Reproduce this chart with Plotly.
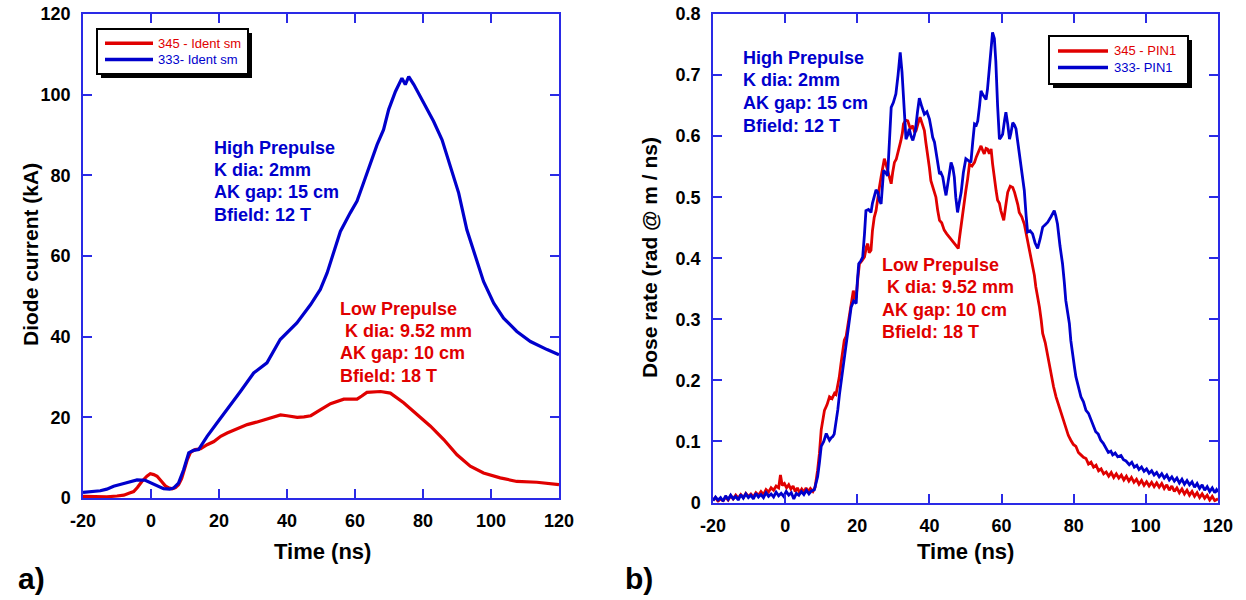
import plotly.graph_objects as go

# ---------------- Data: panel a) Diode current (kA) ----------------
t_a_333 = [-20, -17, -14.9, -13, -11, -8, -6, -4.1, -1.7, 0.3, 2, 3.7, 5.5, 6.7, 8.1, 9.6, 11.1, 12.5, 14,
           16.5, 19.4, 22.4, 26.3, 30.2, 34.1, 38, 42.9, 46.9, 49.8, 51.8, 53.7, 55.7, 58.6, 60.6, 62.5,
           65, 66.5, 68.4, 69.9, 71.9, 73.0, 73.8, 74.8, 75.8, 77.3, 79.2, 81.2, 83.1, 85.6, 88, 90.5,
           92.9, 95.4, 97.8, 100.8, 103.7, 107.6, 111.6, 116.5, 120]
i_a_333 = [1.4, 1.6, 1.8, 2.2, 2.9, 3.6, 4.1, 4.5, 4.4, 3.6, 2.8, 2.3, 2.2, 2.5, 3.7, 7.0, 11.2, 11.8, 12,
           15.3, 18.6, 21.9, 26.4, 31, 33.5, 39.3, 43.4, 47.9, 51.7, 55.8, 60.7, 66.1, 70.7, 73.6, 78.1,
           83.9, 87.6, 91.3, 96.3, 100.8, 102.5, 104.1, 102.5, 104.5, 102.5, 99.6, 96.7, 93.4, 88.8, 82.2, 75.6,
           66.5, 59.9, 53.7, 48.3, 44.6, 41.3, 38.8, 36.8, 35.5]

t_a_345 = [-20, -16, -13, -10, -8, -6.5, -5.1, -4, -2.7, -1.2, -0.2, 0.8, 1.8, 3, 4.2, 5.2, 6.2, 7.2, 8.1,
           9, 9.6, 10.6, 11.6, 13, 14.6, 16.5, 18.5, 20.5, 22.4, 25, 28.3, 31, 34.2, 36, 38.1, 40, 43,
           45, 47, 49.9, 52.8, 56.7, 60.6, 62, 63.5, 67.5, 70.4, 74.3, 78.2, 82.2, 86.1, 90, 93.9, 97.8,
           102.7, 107.6, 113.5, 120]
i_a_345 = [0.4, 0.3, 0.3, 0.5, 0.7, 1.2, 1.6, 2.6, 4.1, 5.4, 6.0, 5.8, 5.4, 4.2, 3.0, 2.5, 2.3, 2.6, 3.3,
           4.8, 6.6, 9.3, 11.3, 12.0, 12.2, 13.2, 14.0, 15.3, 16.1, 17.0, 18.2, 18.8, 19.6, 20.2, 20.6, 20.4, 20.0,
           20.1, 20.4, 21.9, 23.4, 24.5, 24.5, 25.3, 26.2, 26.4, 26.0, 23.6, 20.7, 17.8, 14.5, 10.7, 7.9, 6.2,
           5.0, 4.1, 3.9, 3.3]

# ---------------- Data: panel b) Dose rate (rad @ m / ns) ----------------
t_b_345 = [-20, -19.3, -18.6, -17.9, -17.2, -16.5, -15.8, -15.1, -14.4, -13.7, -13, -12.3, -11.6, -10.9,
           -10.2, -9.5, -8.8, -8.1, -7.4, -6.7, -6, -5.3, -4.6, -3.9, -3.2, -2.5, -1.8, -1.3, -0.8, -0.2,
           0.4, 1.0, 1.6, 2.2, 2.8, 3.4, 4.0, 4.6, 5.2, 5.8, 6.4, 7.0, 7.7, 8.3,
           9.0, 9.5, 10.0, 10.5, 10.9, 11.6, 12.3, 13.0, 13.7, 14.1, 14.6, 15.0, 15.5, 16.0, 16.4, 16.9,
           17.4, 17.8, 18.3, 18.9, 19.3, 19.7, 20.2, 20.6, 21.3, 22.0, 22.5, 22.9, 23.3, 23.8,
           24.2, 24.7, 25.2, 25.7, 26.1, 26.6, 27.0, 27.5, 28.0, 28.4, 28.9, 29.4, 29.8, 30.3, 30.8, 31.2,
           31.7, 32.1, 32.5, 32.8, 33.4, 34.0, 34.7, 35.4, 35.9, 36.3, 36.9, 37.4, 38.0, 38.6, 39.0, 39.5,
           40.0, 40.4, 41.1, 41.8, 42.3, 42.8, 43.4, 44.1, 44.8, 45.5, 46.2, 46.9, 47.6, 48.0, 48.3, 48.8,
           49.2, 49.7, 50.1, 50.6, 51.1, 51.8, 52.5, 53.0, 53.4, 53.9, 54.3, 54.8, 55.2, 55.7, 56.1, 56.6,
           57.1, 57.5, 58.0, 58.5, 58.9, 59.4, 59.8, 60.2, 60.6, 61.2, 61.7, 62.4, 63.1, 63.6, 64.0, 64.5,
           64.9, 65.6, 66.3, 67.0, 67.7, 68.2, 68.6, 69.1, 69.5, 70.0, 70.5, 71.0, 71.4, 72.1, 72.8, 73.3,
           73.7, 74.4, 75.1, 75.8, 76.5, 77.2, 77.8, 78.5, 79.2, 79.9, 80.6, 81.3, 82.0, 82.7, 83.4, 84.1,
           84.8, 85.5, 86.2, 86.9, 87.6, 88.3, 89.0, 89.7, 90.4, 91.1, 91.8, 92.5, 93.2, 93.9, 94.6, 95.3,
           96.0, 96.7, 97.4, 98.1, 98.8, 99.5, 100.2, 100.9, 101.6, 102.3, 103.0, 103.7, 104.4, 105.1, 105.8,
           106.5, 107.2, 107.9, 108.6, 109.3, 110.0, 110.7, 111.4, 112.1, 112.8, 113.5, 114.2, 114.9, 115.6,
           116.3, 117.0, 117.7, 118.4, 119.1, 120]
d_b_345 = [0.004, 0.008, 0.002, 0.006, 0.003, 0.009, 0.004, 0.011, 0.006, 0.012, 0.007, 0.013, 0.008, 0.015,
           0.010, 0.014, 0.009, 0.016, 0.012, 0.018, 0.013, 0.021, 0.017, 0.024, 0.020, 0.027, 0.024, 0.045, 0.028, 0.031,
           0.024, 0.029, 0.022, 0.027, 0.018, 0.024, 0.016, 0.022, 0.017, 0.024, 0.018, 0.023, 0.018, 0.025,
           0.053, 0.080, 0.119, 0.140, 0.151, 0.160, 0.173, 0.170, 0.179, 0.177, 0.190, 0.205, 0.228, 0.250, 0.266, 0.272,
           0.293, 0.301, 0.326, 0.347, 0.335, 0.337, 0.370, 0.391, 0.396, 0.402, 0.418, 0.424, 0.409, 0.413,
           0.445, 0.467, 0.478, 0.503, 0.515, 0.533, 0.548, 0.563, 0.553, 0.544, 0.530, 0.522, 0.540, 0.557, 0.562, 0.571,
           0.580, 0.593, 0.605, 0.620, 0.626, 0.625, 0.612, 0.617, 0.606, 0.609, 0.622, 0.631, 0.620, 0.609, 0.590, 0.571,
           0.548, 0.527, 0.512, 0.500, 0.478, 0.462, 0.458, 0.446, 0.440, 0.435, 0.430, 0.424, 0.420, 0.416, 0.432, 0.456,
           0.476, 0.495, 0.511, 0.530, 0.554, 0.551, 0.557, 0.566, 0.571, 0.578, 0.584, 0.576, 0.571, 0.580, 0.579, 0.571,
           0.579, 0.555, 0.527, 0.510, 0.495, 0.490, 0.478, 0.470, 0.462, 0.488, 0.508, 0.518, 0.516, 0.508, 0.500, 0.488,
           0.475, 0.468, 0.456, 0.435, 0.413, 0.402, 0.391, 0.372, 0.353, 0.338, 0.320, 0.298, 0.277, 0.262, 0.239, 0.226,
           0.211, 0.190, 0.173, 0.160, 0.151, 0.135, 0.124, 0.110, 0.102, 0.095, 0.092, 0.082, 0.078, 0.074, 0.072, 0.063,
           0.066, 0.058, 0.061, 0.052, 0.055, 0.047, 0.050, 0.043, 0.049, 0.041, 0.047, 0.040, 0.045, 0.037, 0.043, 0.035,
           0.041, 0.033, 0.038, 0.030, 0.036, 0.028, 0.034, 0.027, 0.033, 0.026, 0.032, 0.025, 0.031, 0.023, 0.029,
           0.020, 0.027, 0.018, 0.024, 0.016, 0.022, 0.014, 0.020, 0.012, 0.018, 0.010, 0.016, 0.008, 0.014,
           0.007, 0.012, 0.004, 0.010, 0.003, 0.006]

t_b_333 = [-20, -19.3, -18.6, -17.9, -17.2, -16.5, -15.8, -15.1, -14.4, -13.7, -13, -12.3, -11.6, -10.9,
           -10.2, -9.5, -8.8, -8.1, -7.4, -6.7, -6, -5.3, -4.6, -3.9, -3.2, -2.5, -1.8, -1.1, -0.4, 0.3,
           1.0, 1.7, 2.4, 3.1, 3.8, 4.5, 5.2, 5.9, 6.6, 7.3, 8.1,
           9.0, 9.5, 10.0, 10.7, 11.4, 11.8, 12.3, 12.8, 13.2, 13.6, 14.1, 14.6, 15.1, 15.7, 16.4, 16.9,
           17.4, 17.8, 18.3, 19.0, 19.7, 20.0, 20.4, 21.0, 21.5, 22.0, 22.4, 23.1, 23.8, 24.2, 24.7,
           25.2, 25.7, 26.1, 26.6, 27.0, 27.3, 27.9, 28.4, 28.9, 29.4, 30.0, 30.7, 31.3, 31.9, 32.4, 32.8,
           33.2, 33.5, 34.0, 34.4, 34.9, 35.4, 35.8, 36.1, 36.7, 37.2, 37.9, 38.6, 39.3, 40.0, 40.5, 40.9,
           41.4, 41.8, 42.3, 42.8, 43.2, 43.7, 44.2, 44.6, 45.3, 46.0, 46.5, 46.9, 47.3, 47.8, 48.3, 48.8,
           49.4, 50.1, 50.8, 51.5, 52.0, 52.5, 53.0, 53.4, 53.9, 54.3, 54.8, 55.2, 55.7, 56.1, 56.8, 57.5,
           58.0, 58.4, 58.9, 59.4, 59.8, 60.3, 60.8, 61.2, 61.7, 62.2, 62.6, 63.1, 63.6, 64.0, 64.5, 64.9,
           65.6, 66.3, 66.8, 67.2, 67.9, 68.6, 69.3, 70.0, 70.7, 71.4, 72.1, 72.8, 73.7, 74.6, 75.0, 75.5,
           76.2, 76.9, 77.4, 77.8, 78.3, 78.8, 79.2, 79.7, 80.2, 80.6, 81.3, 82.0, 82.7, 83.4, 84.1, 84.8,
           85.4, 86.1, 86.8, 87.5, 88.2, 88.9,
           89.6, 90.3, 90.8, 91.5, 92.2, 93.1, 93.8, 94.5, 95.4, 96.1, 96.8, 97.5, 98.1, 98.8, 99.5, 100.2,
           100.9, 101.6, 102.3, 103.0, 103.7, 104.4, 105.1, 105.8, 106.5, 107.2, 107.9, 108.6, 109.3, 110.0,
           110.7, 111.4, 112.1, 112.8, 113.5, 114.2, 114.9, 115.6, 116.3, 117.0, 117.7, 118.4, 119.1, 119.6, 120]
d_b_333 = [0.003, 0.009, 0.004, 0.008, 0.002, 0.011, 0.005, 0.012, 0.006, 0.010, 0.004, 0.013, 0.007, 0.014,
           0.008, 0.012, 0.006, 0.015, 0.009, 0.013, 0.008, 0.016, 0.010, 0.014, 0.009, 0.017, 0.011, 0.015, 0.010, 0.018,
           0.012, 0.016, 0.006, 0.015, 0.012, 0.018, 0.013, 0.020, 0.014, 0.019, 0.021,
           0.042, 0.065, 0.092, 0.100, 0.113, 0.108, 0.102, 0.106, 0.108, 0.112, 0.130, 0.152, 0.179, 0.205, 0.233, 0.255,
           0.277, 0.297, 0.320, 0.330, 0.326, 0.360, 0.391, 0.396, 0.402, 0.440, 0.478, 0.480, 0.475, 0.490, 0.500,
           0.512, 0.508, 0.495, 0.489, 0.520, 0.544, 0.540, 0.535, 0.590, 0.647, 0.655, 0.669, 0.700, 0.737, 0.705, 0.669,
           0.630, 0.595, 0.602, 0.612, 0.600, 0.593, 0.601, 0.609, 0.640, 0.662, 0.648, 0.636, 0.640, 0.628, 0.612, 0.598,
           0.590, 0.576, 0.555, 0.538, 0.540, 0.533, 0.515, 0.503, 0.530, 0.557, 0.548, 0.533, 0.500, 0.475, 0.492, 0.508,
           0.540, 0.563, 0.560, 0.557, 0.590, 0.620, 0.618, 0.625, 0.650, 0.674, 0.668, 0.664, 0.660, 0.677, 0.725, 0.770,
           0.760, 0.723, 0.650, 0.595, 0.598, 0.603, 0.625, 0.639, 0.620, 0.595, 0.605, 0.622, 0.618, 0.612, 0.590, 0.571,
           0.540, 0.511, 0.470, 0.443, 0.445, 0.440, 0.425, 0.416, 0.432, 0.451, 0.455, 0.459, 0.468, 0.478, 0.470, 0.456,
           0.420, 0.391, 0.360, 0.331, 0.312, 0.293, 0.265, 0.239, 0.222, 0.206, 0.190, 0.173, 0.165, 0.151, 0.146, 0.135,
           0.128, 0.116, 0.112, 0.102, 0.097, 0.089,
           0.082, 0.084, 0.078, 0.081, 0.075, 0.077, 0.070, 0.068, 0.062, 0.066, 0.058, 0.061, 0.054, 0.058, 0.051, 0.055,
           0.048, 0.052, 0.045, 0.049, 0.042, 0.047, 0.040, 0.045, 0.037, 0.042, 0.035, 0.040, 0.032, 0.038,
           0.030, 0.036, 0.029, 0.034, 0.025, 0.031, 0.023, 0.029, 0.020, 0.026, 0.018, 0.024, 0.016, 0.021, 0.017]

x_ticks = [-20, 0, 20, 40, 60, 80, 100, 120]
x_ticktext = ["-20", "0", "20", "40", "60", "80", "100", "120"]
ya_ticks = [0, 20, 40, 60, 80, 100, 120]
yb_ticks = [0, 0.1, 0.2, 0.3, 0.4, 0.5, 0.6, 0.7, 0.8]
yb_ticktext = ["0", "0.1", "0.2", "0.3", "0.4", "0.5", "0.6", "0.7", "0.8"]

RED = "#e00000"
BLUE = "#0000cc"
FRAME = "#2a2ae6"
FONT = "Liberation Sans, Arial, sans-serif"

fig = go.Figure()

fig.add_trace(go.Scatter(x=t_a_345, y=i_a_345, mode="lines", xaxis="x", yaxis="y",
                         line=dict(color=RED, width=3.2), name="345 - Ident sm"))
fig.add_trace(go.Scatter(x=t_a_333, y=i_a_333, mode="lines", xaxis="x", yaxis="y",
                         line=dict(color=BLUE, width=3.2), name="333- Ident sm"))
fig.add_trace(go.Scatter(x=t_b_345, y=d_b_345, mode="lines", xaxis="x2", yaxis="y2",
                         line=dict(color=RED, width=2.8), name="345 - PIN1"))
fig.add_trace(go.Scatter(x=t_b_333, y=d_b_333, mode="lines", xaxis="x2", yaxis="y2",
                         line=dict(color=BLUE, width=2.8), name="333- PIN1"))

W, H = 1246, 600
def px(x):
    return x / W
def py(y):
    return 1 - y / H

axis_common = dict(showline=True, linecolor=FRAME, linewidth=1.5, mirror="ticks",
                   ticks="inside", ticklen=9, tickwidth=1.5, tickcolor=FRAME,
                   showgrid=False, zeroline=False, automargin=False,
                   tickfont=dict(family=FONT, size=18, color="black", weight="bold"))

fig.update_layout(
    width=W, height=H,
    margin=dict(l=0, r=0, t=0, b=0, autoexpand=False),
    paper_bgcolor="white", plot_bgcolor="white",
    showlegend=False,
    xaxis=dict(domain=[px(83), px(559)], range=[-20, 120], tickvals=x_ticks, ticktext=x_ticktext,
               anchor="y", ticklabelstandoff=6, **axis_common),
    yaxis=dict(domain=[py(498), py(14)], range=[0, 120], tickvals=ya_ticks, anchor="x",
               ticklabelstandoff=7, **axis_common),
    xaxis2=dict(domain=[px(713), px(1218)], range=[-20, 120], tickvals=x_ticks, ticktext=x_ticktext,
                anchor="y2", ticklabelstandoff=6, **axis_common),
    yaxis2=dict(domain=[py(502.5), py(14)], range=[0, 0.8], tickvals=yb_ticks, ticktext=yb_ticktext,
                anchor="x2", ticklabelstandoff=7, **axis_common),
)

# ---- legends drawn as boxes with drop shadows ----
def legend_box(x0, y0, x1, y1, items, line_x0, line_x1, text_x):
    fig.add_shape(type="rect", xref="paper", yref="paper",
                  x0=px(x0 + 4), x1=px(x1 + 4), y0=py(y1 + 4), y1=py(y0 + 4),
                  fillcolor="black", line=dict(width=0), layer="above")
    fig.add_shape(type="rect", xref="paper", yref="paper",
                  x0=px(x0), x1=px(x1), y0=py(y1), y1=py(y0),
                  fillcolor="white", line=dict(color="black", width=2), layer="above")
    for (name, color, yc) in items:
        fig.add_shape(type="line", xref="paper", yref="paper",
                      x0=px(line_x0), x1=px(line_x1), y0=py(yc), y1=py(yc),
                      line=dict(color=color, width=3.5), layer="above")
        fig.add_annotation(text=name, x=px(text_x), y=py(yc), xref="paper", yref="paper",
                           showarrow=False, xanchor="left", yanchor="middle",
                           font=dict(family=FONT, size=13, color=color))

legend_box(97, 29, 248, 74, [("345 - Ident sm", RED, 43.3), ("333- Ident sm", BLUE, 59.5)], 105, 153, 156)
legend_box(1049, 36, 1188, 84, [("345 - PIN1", RED, 51), ("333- PIN1", BLUE, 67.5)], 1058, 1108, 1112)

def label(text, x, y, size, color="black", angle=0, xanchor="center"):
    fig.add_annotation(text=text, x=px(x), y=py(y), xref="paper", yref="paper",
                       showarrow=False, xanchor=xanchor, yanchor="middle", textangle=angle,
                       font=dict(family=FONT, size=size, color=color, weight="bold"))

label("Time (ns)", 322, 551, 22)
label("Time (ns)", 965, 551, 22)
label("Diode current (kA)", 30, 255, 21, angle=-90)
label("Dose rate (rad @ m / ns)", 650, 258, 21, angle=-90)
label("a)", 31, 578, 30)
label("b)", 639, 578, 30)

blue_txt = ["High Prepulse", "K dia: 2mm", "AK gap: 15 cm", "Bfield: 12 T"]
red_txt = ["Low Prepulse", "\u00a0K dia: 9.52 mm", "AK gap: 10 cm", "Bfield: 18 T"]
for i, s in enumerate(blue_txt):
    label(s, 212, 147.7 + 22.4 * i, 18, BLUE, xanchor="left")
for i, s in enumerate(red_txt):
    label(s, 338, 308.5 + 22.5 * i, 18, RED, xanchor="left")
for i, s in enumerate(blue_txt):
    label(s, 741, 57.7 + 22.6 * i, 18, BLUE, xanchor="left")
for i, s in enumerate(red_txt):
    label(s, 880, 265 + 22.3 * i, 18, RED, xanchor="left")

fig.write_html("out.html")
